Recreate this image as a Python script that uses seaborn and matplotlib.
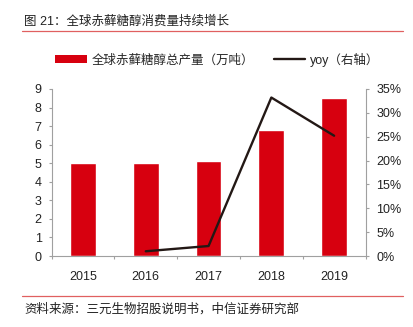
import matplotlib
matplotlib.use("Agg")
import matplotlib.pyplot as plt
import seaborn as sns
import pandas as pd
from matplotlib.patches import Patch
from matplotlib.lines import Line2D
from matplotlib.ticker import FuncFormatter, MultipleLocator

years = ["2015", "2016", "2017", "2018", "2019"]
output = [5.0, 5.0, 5.1, 6.8, 8.5]
yoy_years = ["2016", "2017", "2018", "2019"]
yoy = [0.010, 0.021, 0.332, 0.252]

title = "图 21：全球赤藓糖醇消费量持续增长"
bar_label = "全球赤藓糖醇总产量（万吨）"
line_label = "yoy（右轴）"
source = "资料来源：三元生物招股说明书，中信证券研究部"

sns.set_theme(style="white")
plt.rcParams["font.family"] = ["Liberation Sans", "Noto Sans CJK SC", "DejaVu Sans"]

RED = "#D7000F"
DARK = "#231815"
GRAY = "#A0A0A0"
TXT = "#222222"
FS = 9

fig = plt.figure(figsize=(4.13, 3.27), dpi=100)
ax = fig.add_axes([0.125, 0.217, 0.760, 0.511])

df = pd.DataFrame({"year": years, "output": output})
sns.barplot(data=df, x="year", y="output", color=RED, width=0.41, ax=ax,
            saturation=1)
ax.set_xlim(-0.5, 4.5)
ax.set_ylim(0, 9)
ax.yaxis.set_major_locator(MultipleLocator(1))
ax.set_xlabel("")
ax.set_ylabel("")

ax2 = ax.twinx()
dfl = pd.DataFrame({"x": [years.index(y) for y in yoy_years], "yoy": yoy})
sns.lineplot(data=dfl, x="x", y="yoy", color=DARK, linewidth=1.7, ax=ax2)
ax2.set_ylim(0, 0.35)
ax2.yaxis.set_major_locator(MultipleLocator(0.05))
ax2.yaxis.set_major_formatter(FuncFormatter(lambda v, p: f"{v*100:.0f}%"))
ax2.set_xlabel("")
ax2.set_ylabel("")
ax2.set_xlim(-0.5, 4.5)

for a in (ax, ax2):
    for s in a.spines.values():
        s.set_color(GRAY)
        s.set_linewidth(0.8)
    a.spines["top"].set_visible(False)
ax.spines["right"].set_visible(False)
ax2.spines["left"].set_visible(False)
ax2.spines["bottom"].set_visible(False)

ax.tick_params(axis="y", left=True, length=2.2, width=0.8, color=GRAY,
               labelsize=FS, pad=5, labelcolor=TXT)
ax.tick_params(axis="x", bottom=False, labelsize=FS, pad=5, labelcolor=TXT)
ax2.tick_params(axis="y", right=True, length=2.2, width=0.8, color=GRAY,
                labelsize=FS, pad=5.5, labelcolor=TXT)
# category separator ticks on x axis
ax.set_xticks([-0.5, 0.5, 1.5, 2.5, 3.5, 4.5], minor=True)
ax.tick_params(axis="x", which="minor", bottom=True, length=2.2, width=0.8, color=GRAY)

# title and rules
fig.text(0.058, 0.934, title, fontsize=FS, color=TXT, va="center", ha="left")
fig.add_artist(Line2D([0.053, 0.976], [0.906, 0.906], color="#E06060", linewidth=0.9))
fig.add_artist(Line2D([0.053, 0.976], [0.095, 0.095], color="#E06060", linewidth=0.9))
fig.text(0.058, 0.055, source, fontsize=FS, color=TXT, va="center", ha="left")

handles = [Patch(facecolor=RED, edgecolor="none"),
           Line2D([0], [0], color=DARK, linewidth=1.7)]
fig.legend(handles, [bar_label, line_label], loc="center", bbox_to_anchor=(0.527, 0.818),
           ncol=2, frameon=False, fontsize=FS, handlelength=2.5, handleheight=0.55,
           handletextpad=0.4, columnspacing=1.6)

fig.savefig("out.png", dpi=100)
